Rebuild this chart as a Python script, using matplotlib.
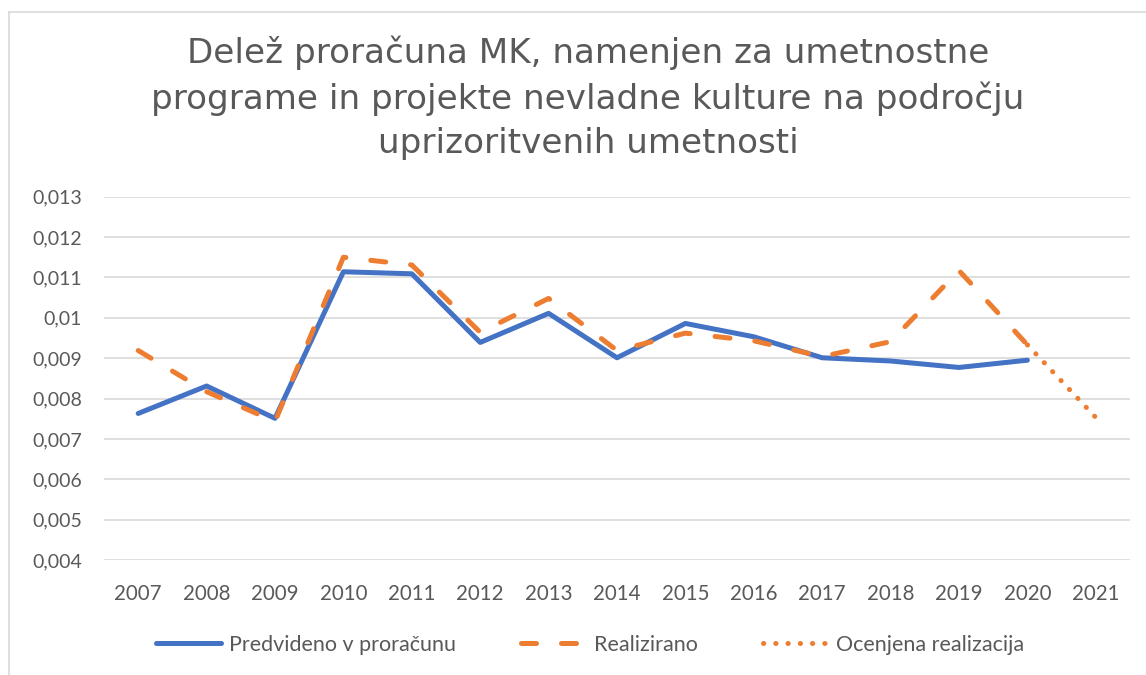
import matplotlib
matplotlib.use("Agg")
import matplotlib.pyplot as plt
import numpy as np
from matplotlib.lines import Line2D
from matplotlib.ticker import FuncFormatter

# data
years = ['2007', '2008', '2009', '2010', '2011', '2012', '2013', '2014',
         '2015', '2016', '2017', '2018', '2019', '2020', '2021']
predvideno = [0.00763, 0.00831, 0.00751, 0.01114, 0.01109, 0.00939, 0.01011,
              0.00901, 0.00986, 0.00953, 0.00901, 0.00893, 0.00877, 0.00895, np.nan]
realizirano = [0.00919, 0.00817, 0.00743, 0.01150, 0.01131, 0.00964, 0.01048,
               0.00919, 0.00962, 0.00943, 0.00904, 0.00941, 0.01117, 0.00933, np.nan]
ocenjena = [np.nan] * 13 + [0.00933, 0.00753]

title = ('Delež proračuna MK, namenjen za umetnostne\n'
         'programe in projekte nevladne kulture na področju\n'
         'uprizoritvenih umetnosti')

blue = '#4472C4'
orange = '#ED7D31'
grey_txt = '#595959'
grid_c = '#D9D9D9'


def fmt(v, pos):
    s = f'{v:.3f}'.rstrip('0')
    return s.replace('.', ',')


fig = plt.figure(figsize=(11.46, 6.75), dpi=100)
W, H = 1146, 675
ax = fig.add_axes([104 / W, 1 - 560 / H, (1130 - 104) / W, (560 - 196.7) / H])

x = np.arange(len(years))
lw = 3.6
ax.plot(x, predvideno, color=blue, lw=lw, solid_capstyle='round',
        solid_joinstyle='round', label='Predvideno v proračunu', zorder=3)
ax.plot(x, realizirano, color=orange, lw=lw, dashes=(3, 5),
        dash_capstyle='round', dash_joinstyle='round', label='Realizirano', zorder=4)
ax.plot(x, ocenjena, color=orange, lw=lw, dashes=(0.05, 2.4),
        dash_capstyle='round', label='Ocenjena realizacija', zorder=4)

ax.set_xlim(-0.5, len(years) - 0.5)
ax.set_ylim(0.004, 0.013)
ax.set_yticks(np.arange(0.004, 0.01301, 0.001))
ax.yaxis.set_major_formatter(FuncFormatter(fmt))
ax.set_xticks(x)
ax.set_xticklabels(years)
ax.grid(axis='y', color=grid_c, lw=1.2)
ax.set_axisbelow(True)
for s in ax.spines.values():
    s.set_visible(False)
ax.tick_params(length=0, colors=grey_txt, labelsize=14)
ax.tick_params(axis='x', labelsize=14.8)
ax.tick_params(axis='y', pad=16)
ax.tick_params(axis='x', pad=17)
for lab in ax.get_xticklabels() + ax.get_yticklabels():
    lab.set_fontfamily('Lato')

fig.text(588 / W, 1 - 97.5 / H, title, ha='center', va='center', fontsize=24.6,
         color=grey_txt, family='DejaVu Sans', linespacing=1.42)

leg = fig.legend(loc='center', bbox_to_anchor=(590 / W, 1 - 645 / H), ncol=3,
                 frameon=False, handlelength=3.0, columnspacing=3.0,
                 handletextpad=0.4, prop={'family': 'Lato', 'size': 15.5})
for t in leg.get_texts():
    t.set_color(grey_txt)

# outer chart frame
fig.add_artist(Line2D([8.5 / W, 1], [1 - 11.5 / H, 1 - 11.5 / H], color=grid_c, lw=1.2))
fig.add_artist(Line2D([8.5 / W, 8.5 / W], [0, 1 - 11.5 / H], color=grid_c, lw=1.2))

fig.savefig('out.png', dpi=100)
